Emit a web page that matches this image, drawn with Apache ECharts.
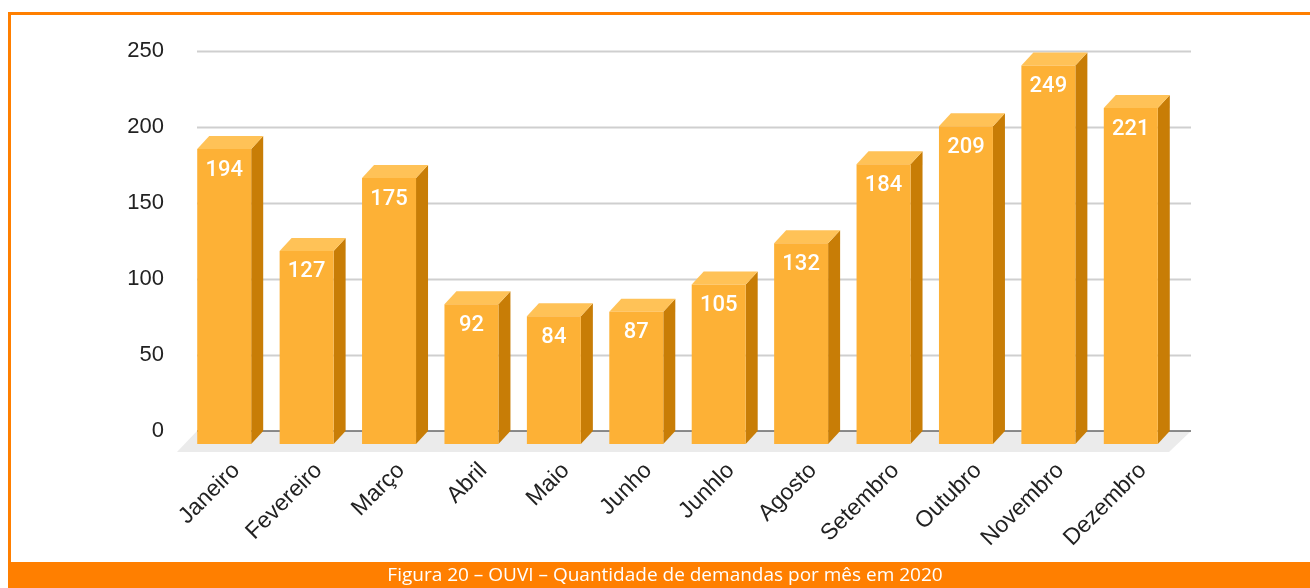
<!DOCTYPE html>
<html>
<head>
<meta charset="utf-8">
<script src="https://cdn.jsdelivr.net/npm/echarts@6/dist/echarts.min.js"></script>
<style>
html,body{margin:0;padding:0;background:#fff;}
#chart{width:1310px;height:588px;}
</style>
</head>
<body>
<div id="chart"></div>
<script>
const months = ['Janeiro','Fevereiro','Março','Abril','Maio','Junho','Junhlo','Agosto','Setembro','Outubro','Novembro','Dezembro'];
const demandas = [194,127,175,92,84,87,105,132,184,209,249,221];
const yTicks = [0,50,100,150,200,250];
const caption = 'Figura 20 – OUVI – Quantidade de demandas por mês em 2020';

const ORANGE = '#FF7F00';
const FRONT = '#FDB136';
const SIDE = '#C87D06';
const TOP = '#FFC257';
const DX = 12, DY = 13;

const chart = echarts.init(document.getElementById('chart'), null, {renderer:'canvas'});

function renderFloor(params, api) {
  const cs = params.coordSys;
  const y0 = api.coord([0, 0])[1];
  const xl = cs.x + 2, xr = cs.x + cs.width + 7;
  const children = [];
  children.push({
    type:'polygon',
    shape:{points:[[xl, y0],[xr, y0],[xr-22, y0+21],[xl-20, y0+21]]},
    style:{fill:'#EBEBEB'}
  });
  yTicks.forEach(t => {
    if (t === 0) return;
    const yy = Math.round(api.coord([0, t])[1]) + 0.5;
    children.push({type:'line', shape:{x1:xl, y1:yy, x2:xr, y2:yy}, style:{stroke:'#CFCFCF', lineWidth:2}});
  });
  children.push({type:'line', shape:{x1:xl, y1:y0, x2:xr, y2:y0}, style:{stroke:'#666', lineWidth:1.5}});
  return {type:'group', children};
}

function renderBar(params, api) {
  const cat = api.value(0), v = api.value(1);
  const top = api.coord([cat, v]);
  const base = api.coord([cat, 0]);
  const bw = api.size([1, 0])[0] * 0.655;
  const x0 = top[0] - DX - bw/2, x1 = x0 + bw;
  const yT = top[1] + DY, yB = base[1] + DY;
  return {
    type:'group',
    children:[
      {type:'polygon', shape:{points:[[x1,yT],[x1+DX,yT-DY],[x1+DX,yB-DY],[x1,yB]]}, style:{fill:SIDE}},
      {type:'polygon', shape:{points:[[x0,yT],[x1,yT],[x1+DX,yT-DY],[x0+DX,yT-DY]]}, style:{fill:TOP}},
      {type:'rect', shape:{x:x0, y:yT, width:bw, height:yB-yT}, style:{fill:FRONT}},
      {type:'text', x:(x0+x1)/2, y:yT+21, style:{text:String(v), fill:'#fff', font:'500 22px Roboto', textAlign:'center', textVerticalAlign:'middle'}}
    ]
  };
}

const option = {
  animation:false,
  backgroundColor:'#fff',
  grid:{left:195, right:126, top:51, bottom:157, containLabel:false},
  xAxis:{
    type:'category', data:months,
    axisLine:{show:false}, axisTick:{show:false},
    axisLabel:{rotate:45, margin:36, color:'#222', fontSize:23, fontFamily:'Liberation Sans', interval:0}
  },
  yAxis:{
    type:'value', min:0, max:250, interval:50,
    axisLine:{show:false}, axisTick:{show:false}, splitLine:{show:false},
    axisLabel:{margin:31, color:'#222', fontSize:22, fontFamily:'Liberation Sans'}
  },
  series:[
    {type:'custom', name:'floor', z:1, clip:false, renderItem:renderFloor, data:[[0,0]], silent:true},
    {type:'custom', name:'Demandas', z:2, clip:false, renderItem:renderBar,
     encode:{x:0, y:1}, data:demandas.map((v,i)=>[i,v])}
  ],
  graphic:[
    {type:'rect', left:8, top:12, shape:{width:3, height:552}, style:{fill:ORANGE}},
    {type:'rect', left:8, top:12, shape:{width:1302, height:3}, style:{fill:ORANGE}},
    {type:'rect', left:8, top:562, shape:{width:1302, height:26}, style:{fill:ORANGE}},
    {type:'text', x:665, y:576, style:{text:caption, fill:'#fff', font:'19px "Open Sans"', textAlign:'center', textVerticalAlign:'middle'}}
  ]
};
chart.setOption(option);
</script>
</body>
</html>
